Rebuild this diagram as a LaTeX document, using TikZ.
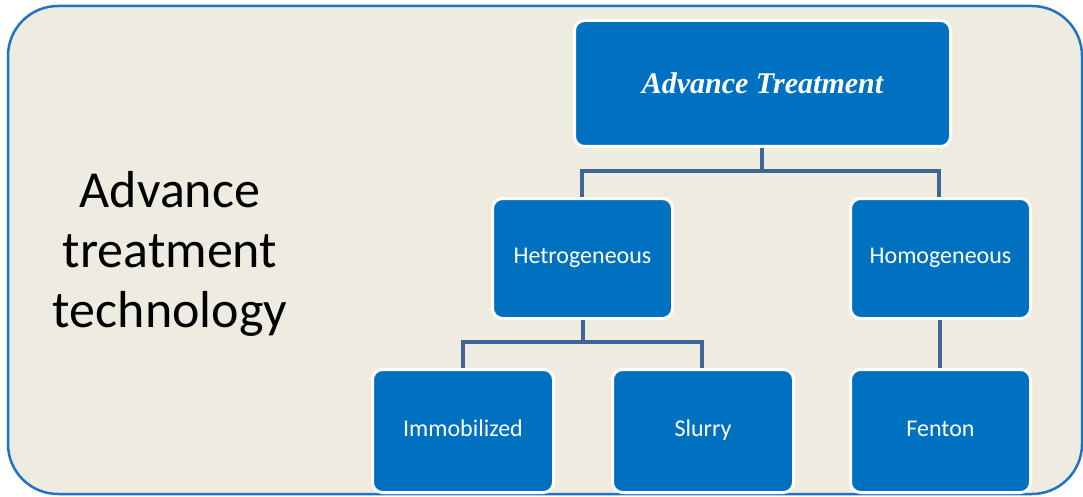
\documentclass[tikz,border=0pt]{standalone}
\usepackage{fontspec}
\setmainfont{Carlito}
\newfontfamily\serifbi{Liberation Serif}
\definecolor{bgc}{RGB}{238,236,225}
\definecolor{framec}{RGB}{30,115,195}
\definecolor{boxc}{RGB}{0,112,192}
\definecolor{linec}{RGB}{65,100,150}
\begin{document}
\begin{tikzpicture}[x=1pt,y=-1pt,
  bluebox/.style={draw=white, line width=3pt, fill=boxc, rounded corners=10pt,
    text=white, font=\fontsize{24}{28}\selectfont, inner sep=0pt, anchor=north west},
  lowbox/.style={bluebox, text height=15pt, text depth=5pt},
  conn/.style={draw=linec, line width=4pt}]
\useasboundingbox (0,0) rectangle (1083,497);
\draw[draw=framec, line width=2.5pt, fill=bgc, rounded corners=50pt] (8,6) rectangle (1082,494);
\node[font=\fontsize{52}{60}\selectfont, align=center, text=black] (title) at (170,254)
  {Advance\\treatment\\technology};
\node[bluebox, minimum width=376pt, minimum height=126pt] (top) at (573,19)
  {\serifbi\bfseries\itshape\fontsize{30}{36}\selectfont Advance Treatment};
\node[lowbox, minimum width=180pt, minimum height=120pt] (het) at (491,197) {Hetrogeneous};
\node[lowbox, minimum width=180pt, minimum height=120pt] (hom) at (849,197) {Homogeneous};
\node[lowbox, minimum width=181pt, minimum height=123pt] (imm) at (371,368) {Immobilized};
\node[lowbox, minimum width=181pt, minimum height=123pt] (slu) at (611,368) {Slurry};
\node[lowbox, minimum width=180pt, minimum height=123pt] (fen) at (849,368) {Fenton};
\coordinate (j1) at (762,171);
\coordinate (j2) at (583,342);
\draw[conn] (top.south -| j1) -- (j1) -| (het.north -| 582,0);
\draw[conn] (j1) -| (hom.north -| 939,0);
\draw[conn] (het.south -| j2) -- (j2) -| (imm.north -| 463,0);
\draw[conn] (j2) -| (slu.north -| 702,0);
\draw[conn] (hom.south -| 940,0) -- (fen.north -| 940,0);
\end{tikzpicture}
\end{document}
